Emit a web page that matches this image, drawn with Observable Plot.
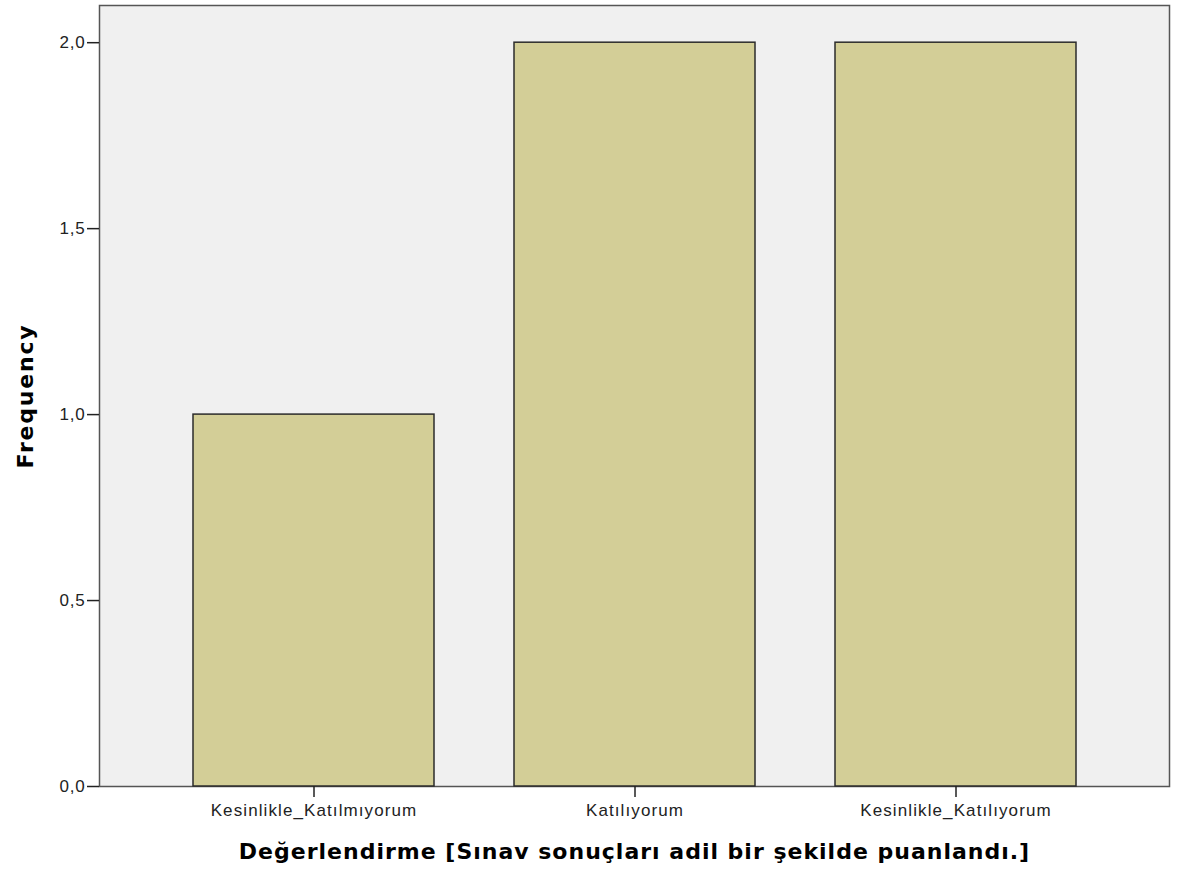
<!DOCTYPE html>
<html>
<head>
<meta charset="utf-8">
<script src="https://cdn.jsdelivr.net/npm/d3@7"></script>
<script src="https://cdn.jsdelivr.net/npm/@observablehq/plot@0.6"></script>
<style>
  html, body { margin: 0; padding: 0; background: #ffffff; }
  #chart svg { display: block; }
  #chart g[aria-label="x-axis tick label"] text { letter-spacing: 1.1px; }
  #chart g[aria-label="y-axis tick label"] text { letter-spacing: 0.8px; }
  #chart g[aria-label="text"] text { letter-spacing: 1px; }
  #chart g[aria-label="text"].ylab text { letter-spacing: 1.8px; }
</style>
</head>
<body>
<div id="chart"></div>
<script>
const categories = ["Kesinlikle_Katılmıyorum", "Katılıyorum", "Kesinlikle_Katılıyorum"];
const frequencies = [1, 2, 2];
const yTicks = [0, 0.5, 1, 1.5, 2];
const xLabel = "Değerlendirme [Sınav sonuçları adil bir şekilde puanlandı.]";
const yLabel = "Frequency";

const data = categories.map((c, i) => ({category: c, frequency: frequencies[i]}));
const fmt = d => d.toFixed(1).replace(".", ",");

const chart = Plot.plot({
  width: 1180,
  height: 883,
  marginLeft: 99,
  marginRight: 11,
  marginTop: 5,
  marginBottom: 97,
  style: {fontFamily: "'Liberation Sans', Arial, sans-serif", background: "#ffffff", color: "#222"},
  x: {domain: categories, paddingInner: 0.25, paddingOuter: 0.29, label: null},
  y: {domain: [0, 2.1], label: null},
  marks: [
    Plot.frame({fill: "#f0f0f0", stroke: "#555", strokeWidth: 1.5}),
    Plot.barY(data, {x: "category", y: "frequency", fill: "#d3ce97", stroke: "#2b2b2b", strokeWidth: 1.5}),
    Plot.axisY({ticks: yTicks, tickFormat: fmt, tickSize: 12, tickPadding: 2, fontSize: 17, stroke: "#222", strokeWidth: 1.5, label: null}),
    Plot.axisX({tickSize: 11, tickPadding: 6, fontSize: 17, stroke: "#222", strokeWidth: 1.5, label: null}),
    Plot.text([xLabel], {frameAnchor: "bottom", dy: 72, fontSize: 22, fontWeight: "bold", fontFamily: "'DejaVu Sans', sans-serif", fill: "#000"}),
    Plot.text([yLabel], {frameAnchor: "left", dx: -74, rotate: -90, textAnchor: "middle", fontSize: 22, fontWeight: "bold", fontFamily: "'DejaVu Sans', sans-serif", fill: "#000", className: "ylab"})
  ]
});
document.getElementById("chart").appendChild(chart);
</script>
</body>
</html>
